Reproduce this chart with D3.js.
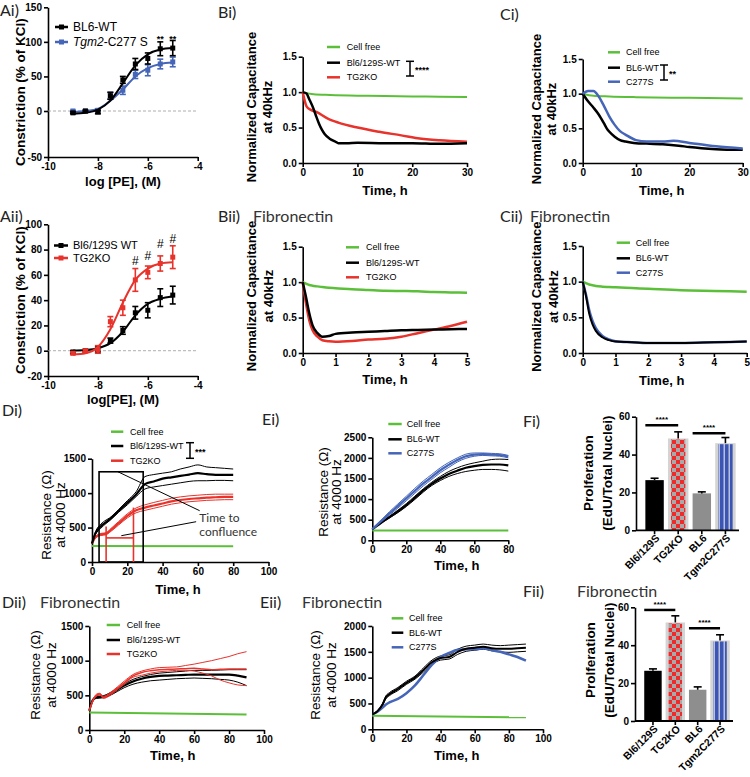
<!DOCTYPE html>
<html><head><meta charset="utf-8">
<script src="https://cdn.jsdelivr.net/npm/d3@7"></script>
<style>body{margin:0;background:#fff}</style>
</head><body><svg id="c" width="750" height="777" xmlns="http://www.w3.org/2000/svg"></svg>
<script>
// ================= DATA =================
// A panels: log[PE] concentration-response
const logPE = [-9,-8.5,-8,-7.5,-7,-6.5,-6,-5.5,-5];
const aiWT = [-2,0,-1,22,45,68,76,90,91];
const aiWTerr = [1,1,2,5,5,8,8,10,11];
const aiC277S = [0,0,1,22,30,53,59,68,71];
const aiC277Serr = [1,1,2,5,6,6,8,7,7];
const aiWTfit = [-3,-2,2,15,40,66,82,89,91];
const aiC277Sfit = [-1,0,3,15,31,50,62,68,70];
const aiStars = [-5.5,-5];
const aiYticks = [-50,0,50,100,150];

const aiiWT = [-1,0,1,8,16,30,32,42,44];
const aiiWTerr = [1,1,2,2,3,5,6,7,7];
const aiiKO = [-2,0,1,23,34,56,62,69,74];
const aiiKOerr = [1,1,3,4,6,9,5,6,9];
const aiiWTfit = [0,0.5,2,6,15,28,37,41,43];
const aiiKOfit = [-3,-2,3,17,38,56,65,69,70];
const aiiHash = [[-6.5,68],[-6,72],[-5.5,81],[-5,85]];

// B / C panels: normalized capacitance
const biCellFreeT = [0,2,5,10,15,20,25,30];
const biCellFree = [1.0,0.97,0.96,0.95,0.945,0.94,0.935,0.93];
const biWTT = [0,0.7,1.2,2,2.5,3,3.5,4,5,6,6.5,8,10,15,20,25,30];
const biWT = [1.0,0.98,0.9,0.76,0.65,0.55,0.47,0.41,0.34,0.3,0.28,0.28,0.285,0.28,0.28,0.27,0.28];
const biKOT = [0,0.7,1.5,2.5,4.5,6.5,10,14,18,21,25,30];
const biKO = [1.0,0.8,0.75,0.72,0.63,0.57,0.5,0.44,0.39,0.35,0.32,0.3];

const ciCellFreeT = [0,2,5,10,20,30];
const ciCellFree = [1.0,0.97,0.96,0.95,0.94,0.93];
const ciWTT = [0,1,2,3,4,4.5,5,6,7,8,9,10,12,15,18,20,25,30];
const ciWT = [1.0,0.89,0.8,0.7,0.57,0.5,0.45,0.38,0.33,0.31,0.295,0.285,0.28,0.27,0.25,0.23,0.2,0.19];
const ciC277ST = [0,1,2,3,4,5,6,7,8,10,12,15,17,20,25,30];
const ciC277S = [1.0,1.04,1.04,0.96,0.82,0.67,0.55,0.46,0.41,0.33,0.31,0.31,0.32,0.29,0.24,0.21];

const biiT = [0,0.1,0.2,0.3,0.45,0.6,0.8,1,1.5,2,2.5,3,3.5,4,4.5,5];
const biiCellFree = [1.0,0.98,0.96,0.95,0.94,0.93,0.92,0.915,0.9,0.89,0.88,0.875,0.87,0.86,0.855,0.85];
const biiWT = [1.0,0.79,0.56,0.39,0.28,0.23,0.24,0.27,0.29,0.3,0.31,0.32,0.325,0.33,0.335,0.34];
const biiKO = [1.0,0.7,0.46,0.32,0.23,0.18,0.165,0.16,0.17,0.19,0.2,0.23,0.28,0.33,0.38,0.44];

const ciiT = [0,0.1,0.2,0.3,0.4,0.6,0.8,1,1.5,2,3,4,5];
const ciiCellFree = [1.0,0.98,0.96,0.95,0.94,0.93,0.925,0.92,0.91,0.9,0.88,0.87,0.86];
const ciiWT = [1.0,0.8,0.55,0.4,0.31,0.22,0.18,0.16,0.15,0.14,0.14,0.15,0.16];
const ciiC277S = [1.0,0.82,0.6,0.45,0.35,0.24,0.19,0.165,0.15,0.14,0.14,0.15,0.16];

// D / E panels: resistance at 4000 Hz
const diT = [0,2,5,8,10,15,20,25,30,35,40,45,50,55,60,65,70,75,80];
const diWT = [270,420,520,580,620,740,860,980,1130,1170,1210,1230,1250,1270,1290,1275,1265,1265,1265];
const diWThi = [270,440,550,610,640,760,890,1020,1240,1270,1290,1310,1350,1380,1410,1380,1370,1360,1350];
const diWTlo = [270,400,490,560,600,720,830,950,1060,1090,1110,1130,1150,1170,1180,1180,1185,1185,1180];
const diKO = [270,360,400,410,450,560,670,750,790,820,850,880,900,915,925,935,940,945,945];
const diKOhi = [270,370,415,425,470,585,700,785,830,865,895,925,945,960,970,980,985,985,985];
const diKOlo = [270,350,385,395,430,535,640,715,750,780,810,840,860,875,885,895,900,905,905];
const diCellFreeT = [0,80];
const diCellFree = [232,230];
const diConfluenceBox = [4,29,1310];      // start h, end h, top (Ω)
const diConfluenceKO = [8,23.5,350];      // TG2KO bracket: start h, end h, level (Ω)
const diConfluenceKOtops = [515,790];     // red vertical heights
const diPointer1 = [[14.7,1310],[61,745]];
const diPointer2 = [[16.6,382],[59,585]];

const eiT = [0,5,10,15,20,25,30,35,40,45,50,55,60,65,70,75,80];
const eiWT = [270,420,560,700,855,1030,1210,1370,1500,1610,1690,1760,1800,1830,1840,1840,1820];
const eiWThi = [270,430,580,730,890,1070,1250,1410,1550,1670,1760,1830,1880,1920,1960,1970,1960];
const eiWTlo = [270,410,540,670,820,990,1170,1330,1450,1550,1620,1670,1700,1720,1720,1710,1680];
const eiC277S = [270,460,650,830,1016,1200,1380,1540,1700,1830,1950,2040,2080,2090,2080,2070,2030];
const eiC277Shi = [270,480,690,880,1070,1260,1440,1600,1760,1890,2000,2090,2120,2120,2110,2100,2060];
const eiC277Slo = [270,440,610,780,960,1140,1320,1480,1640,1770,1900,1990,2040,2060,2050,2040,2000];
const eiCellFreeT = [0,80];
const eiCellFree = [240,238];

const diiT = [0,2,4,6,8,12,16,20,25,30,35,40,45,50,55,60,65,70,75,80,85,90];
const diiWT = [280,430,470,475,480,520,580,640,700,740,765,780,785,790,795,800,800,800,800,800,785,760];
const diiWThi = [280,440,485,490,495,540,600,665,730,770,800,820,830,840,850,860,860,860,865,870,870,870];
const diiWTlo = [280,420,455,460,465,500,555,610,660,690,710,720,730,740,745,750,745,740,730,720,690,640];
const diiKO = [280,420,500,520,470,520,600,680,780,830,855,870,875,880,885,890,880,870,875,880,880,880];
const diiKOhi = [280,430,515,530,485,540,620,705,800,850,880,900,905,910,930,950,975,1000,1030,1060,1100,1130];
const diiKOlo = [280,410,485,505,455,500,580,660,760,790,820,840,850,860,860,850,820,780,720,680,650,640];
const diiCellFreeT = [0,90];
const diiCellFree = [252,225];

const eiiT = [0,3,6,8,10,15,20,25,30,35,40,45,50,55,60,65,70,75,80,85,90];
const eiiWT = [290,350,480,620,680,780,900,1000,1150,1300,1380,1400,1500,1560,1580,1600,1570,1560,1560,1570,1580];
const eiiWThi = [290,360,500,650,710,810,930,1030,1190,1340,1420,1440,1550,1610,1630,1650,1630,1620,1630,1640,1650];
const eiiWTlo = [290,340,460,590,650,750,870,970,1110,1260,1340,1360,1450,1510,1530,1550,1520,1500,1490,1500,1510];
const eiiC277S = [290,340,420,480,520,590,700,850,1050,1250,1400,1480,1540,1550,1550,1570,1530,1500,1450,1400,1330];
const eiiCellFreeT = [0,90];
const eiiCellFree = [260,232];

// F panels: proliferation
const fCats = ["Bl6/129S","TG2KO","BL6","Tgm2C277S"];
const fiMeans = [26.5,48.5,19.5,46];
const fiErr = [1,3.5,0.8,3];
const fiSig = [[0,1,55.5],[2,3,51.2]];
const fiiMeans = [26.5,52,16.5,42.5];
const fiiErr = [1,3.5,1.5,3];
const fiiSig = [[0,1,58.6],[2,3,49]];

// ================= DRAWING =================
const COL = {green:"#5cbf3a", red:"#e8332c", blue:"#4565b8", black:"#000000", gray:"#8e8e8e"};
const FONT = "'Liberation Sans', Arial, sans-serif";
const LFONT = "Lato, 'Open Sans', sans-serif";
const svg = d3.select("#c");
svg.append("rect").attr("width",750).attr("height",777).attr("fill","#fff");

function txt(x,y,s,o={}) {
  const t = svg.append("text").attr("x",x).attr("y",y).text(s)
    .attr("font-family",o.family||FONT).attr("font-size",o.size||10)
    .attr("font-weight",o.weight||"normal").attr("fill",o.fill||"#000")
    .attr("text-anchor",o.anchor||"start");
  if (o.rot) t.attr("transform",`rotate(${o.rot},${x},${y})`);
  if (o.dy) t.attr("dy",o.dy);
  if (o.style) t.attr("font-style",o.style);
  return t;
}

function makeAxes(p) {
  const x = d3.scaleLinear().domain(p.xd).range(p.xr);
  const y = d3.scaleLinear().domain(p.yd).range(p.yr);
  const fmt = d => String(d);
  const xa = svg.append("g").attr("transform",`translate(0,${p.yr[0]})`)
    .call(d3.axisBottom(x).tickValues(p.xt).tickSize(4).tickSizeOuter(0).tickPadding(2).tickFormat(p.xf||fmt));
  const ya = svg.append("g").attr("transform",`translate(${p.xr[0]},0)`)
    .call(d3.axisLeft(y).tickValues(p.yt).tickSize(4).tickSizeOuter(0).tickPadding(2).tickFormat(p.yf||fmt));
  [xa,ya].forEach(a=>{
    a.selectAll("path,line").attr("stroke","#000").attr("stroke-width",1.6);
    a.selectAll("text").attr("font-size",10).attr("font-weight","bold").attr("fill","#000").attr("font-family",FONT);
  });
  return {x,y};
}

function drawLine(s, xs, ys, color, w, curve) {
  const pts = xs.map((t,i)=>[t,ys[i]]);
  svg.append("path").datum(pts)
    .attr("d", d3.line().x(d=>s.x(d[0])).y(d=>s.y(d[1])).curve(curve||d3.curveMonotoneX))
    .attr("fill","none").attr("stroke",color).attr("stroke-width",w).attr("stroke-linejoin","round");
}

function legend(items, x1, x2, tx, ys, size) {
  items.forEach((it,i)=>{
    svg.append("line").attr("x1",x1).attr("x2",x2).attr("y1",ys[i]).attr("y2",ys[i])
      .attr("stroke",it.c).attr("stroke-width",2.5);
    if (it.marker) svg.append("rect").attr("x",(x1+x2)/2-2.5).attr("y",ys[i]-2.5).attr("width",5).attr("height",5).attr("fill",it.c);
    const t = svg.append("text").attr("x",tx).attr("y",ys[i]).attr("dy","0.35em")
      .attr("font-family",FONT).attr("font-size",size).attr("fill","#000");
    if (it.parts) it.parts.forEach(p=>t.append("tspan").text(p[0]).attr("font-style",p[1]?"italic":"normal"));
    else t.text(it.t);
  });
}

function panelLabel(x,y,s) {
  txt(x,y,s,{family:LFONT,size:16,fill:"#222"});
}

// ---------- A panels ----------
function drawA(p) {
  const x = d3.scaleLinear().domain(p.xd).range(p.xr);
  const y = d3.scaleLinear().domain(p.yd).range(p.yr);
  const fmt = d => String(d);
  const xa = svg.append("g").attr("transform",`translate(0,${p.yr[0]})`)
    .call(d3.axisBottom(x).tickValues(p.xt).tickSize(4).tickSizeOuter(0).tickPadding(2).tickFormat(fmt));
  const ya = svg.append("g").attr("transform",`translate(${p.xr[0]},0)`)
    .call(d3.axisLeft(y).tickValues(p.yt).tickSize(4).tickSizeOuter(0).tickPadding(2).tickFormat(fmt));
  [xa,ya].forEach(a=>{
    a.selectAll("path,line").attr("stroke","#000").attr("stroke-width",1.6);
    a.selectAll("text").attr("font-size",10).attr("font-weight","bold").attr("fill","#000").attr("font-family",FONT);
  });
  const s = {x,y};
  svg.append("line").attr("x1",x(p.xd[0])).attr("x2",x(p.xd[1])).attr("y1",y(0)).attr("y2",y(0))
    .attr("stroke","#999").attr("stroke-width",0.8).attr("stroke-dasharray","3,2");
  p.series.forEach(se=>{
    drawLine(s, logPE, se.fit, se.c, 2, d3.curveMonotoneX);
    logPE.forEach((v,i)=>{
      const cx=x(v), cy=y(se.m[i]), e=se.e[i];
      const y1=y(se.m[i]+e), y2=y(se.m[i]-e);
      svg.append("line").attr("x1",cx).attr("x2",cx).attr("y1",y1).attr("y2",y2).attr("stroke",se.c).attr("stroke-width",1.6);
      [y1,y2].forEach(yy=>svg.append("line").attr("x1",cx-3).attr("x2",cx+3).attr("y1",yy).attr("y2",yy).attr("stroke",se.c).attr("stroke-width",1.6));
      svg.append("rect").attr("x",cx-2.5).attr("y",cy-2.5).attr("width",5).attr("height",5).attr("fill",se.c);
    });
  });
  return s;
}

const sAi = drawA({xd:[-10,-4], xr:[48,197.7], yd:[-50,0,150], yr:[157,111,7.3],
  xt:[-10,-8,-6,-4], yt:aiYticks,
  series:[{m:aiC277S,e:aiC277Serr,fit:aiC277Sfit,c:COL.blue},{m:aiWT,e:aiWTerr,fit:aiWTfit,c:COL.black}]});
aiStars.forEach(v=>txt(sAi.x(v),sAi.y(100),"**",{anchor:"middle",size:9,weight:"bold"}));
legend([{t:"BL6-WT",c:COL.black,marker:true},{parts:[["Tgm2",true],["-C277 S",false]],c:COL.blue,marker:true}],55,68,73,[27,42],12);
txt(123,186,"log [PE], (M)",{anchor:"middle",size:13,weight:"bold"});
txt(20,92,"Constriction (% of  KCl)",{anchor:"middle",size:13.5,weight:"bold",rot:-90,dy:"0.35em"});
panelLabel(0,16,"Ai)");

const sAii = drawA({xd:[-10,-4], xr:[48,197.7], yd:[-20,100], yr:[376,224.3],
  xt:[-10,-8,-6,-4], yt:[-20,0,20,40,60,80,100],
  series:[{m:aiiWT,e:aiiWTerr,fit:aiiWTfit,c:COL.black},{m:aiiKO,e:aiiKOerr,fit:aiiKOfit,c:COL.red}]});
aiiHash.forEach(h=>txt(sAii.x(h[0]),sAii.y(h[1]),"#",{anchor:"middle",size:12}));
legend([{t:"Bl6/129S WT",c:COL.black,marker:true},{t:"TG2KO",c:COL.red,marker:true}],54,68,73,[245.5,258],11);
txt(123,404,"log[PE], (M)",{anchor:"middle",size:13,weight:"bold"});
txt(20,300,"Constriction (% of  KCl)",{anchor:"middle",size:13.5,weight:"bold",rot:-90,dy:"0.35em"});
panelLabel(0,222,"Aii)");

// ---------- B / C panels ----------
function capAxes(xr,yr,xd,xt) {
  return makeAxes({xd:xd, xr:xr, yd:[0,1.5], yr:yr, xt:xt, yt:[0,0.5,1,1.5], yf:d3.format(".1f")});
}
function capLabels(x1,x2,yc,tx,ty) {
  txt(x1,yc,"Normalized Capacitance",{anchor:"middle",size:13,weight:"bold",rot:-90,dy:"0.35em"});
  txt(x2,yc,"at 40kHz",{anchor:"middle",size:13,weight:"bold",rot:-90,dy:"0.35em"});
  txt(tx,ty,"Time, h",{anchor:"middle",size:13,weight:"bold",dy:"0.35em"});
}
function bracket(x,y1,y2,label) {
  svg.append("line").attr("x1",x).attr("x2",x).attr("y1",y1).attr("y2",y2).attr("stroke","#000").attr("stroke-width",1.5);
  [y1,y2].forEach(y=>svg.append("line").attr("x1",x-4).attr("x2",x+4).attr("y1",y).attr("y2",y).attr("stroke","#000").attr("stroke-width",1.5));
  txt(x+5,(y1+y2)/2,label,{size:9,weight:"bold",dy:"0.5em"});
}

// Bi
const sBi = capAxes([302.7,467],[163,56.7],[0,30],[0,10,20,30]);
drawLine(sBi, biCellFreeT, biCellFree, COL.green, 2);
drawLine(sBi, biKOT, biKO, COL.red, 2.5);
drawLine(sBi, biWTT, biWT, COL.black, 2.5);
legend([{t:"Cell free",c:COL.green},{t:"Bl6/129S-WT",c:COL.black},{t:"TG2KO",c:COL.red}],327,340,346.7,[47,62.7,77.3],9);
bracket(410,61.3,76,"****");
capLabels(251.7,267.3,107,385,190);
panelLabel(218,18,"Bi)");

// Ci
const sCi = capAxes([582.7,742.7],[163,59],[0,30],[0,10,20,30]);
drawLine(sCi, ciCellFreeT, ciCellFree, COL.green, 2);
drawLine(sCi, ciWTT, ciWT, COL.black, 2.5);
drawLine(sCi, ciC277ST, ciC277S, COL.blue, 2.5);
legend([{t:"Cell free",c:COL.green},{t:"BL6-WT",c:COL.black},{t:"C277S",c:COL.blue}],608,620,626,[52.3,67.7,81.7],9);
bracket(664,65,80,"**");
capLabels(536.7,551.7,109,661.7,190);
panelLabel(500,20,"Ci)");

// Bii
const sBii = capAxes([302.7,467],[353,246.7],[0,5],[0,1,2,3,4,5]);
drawLine(sBii, biiT, biiCellFree, COL.green, 2.5);
drawLine(sBii, biiT, biiKO, COL.red, 2.5);
drawLine(sBii, biiT, biiWT, COL.black, 2.5);
legend([{t:"Cell free",c:COL.green},{t:"Bl6/129S-WT",c:COL.black},{t:"TG2KO",c:COL.red}],346,359,366,[247.3,262.7,277.3],9);
capLabels(251.7,268.3,296,385,379);
panelLabel(218,222,"Bii)");
txt(253,222,"Fibronectin",{family:LFONT,size:16,fill:"#333"});

// Cii
const sCii = capAxes([582.7,746.7],[353,246],[0,5],[0,1,2,3,4,5]);
drawLine(sCii, ciiT, ciiCellFree, COL.green, 2.5);
drawLine(sCii, ciiT, ciiC277S, COL.blue, 2.5);
drawLine(sCii, ciiT, ciiWT, COL.black, 2);
legend([{t:"Cell free",c:COL.green},{t:"BL6-WT",c:COL.black},{t:"C277S",c:COL.blue}],616.7,630,635.7,[242.7,258.3,272.7],9);
capLabels(536.7,553.3,296.7,661.7,380);
panelLabel(500,222,"Cii)");
txt(530,222,"Fibronectin",{family:LFONT,size:16,fill:"#333"});

// ---------- D / E panels ----------
function resLabels(x1,x2,yc,tx,ty) {
  txt(x1,yc,"Resistance (\u03A9)",{anchor:"middle",size:13.5,rot:-90,dy:"0.35em"});
  txt(x2,yc,"at 4000 Hz",{anchor:"middle",size:13.5,rot:-90,dy:"0.35em"});
  txt(tx,ty,"Time, h",{anchor:"middle",size:13,weight:"bold",dy:"0.35em"});
}

// Di
const sDi = makeAxes({xd:[0,100], xr:[92,268.5], yd:[0,1500], yr:[562,458.7], xt:[0,20,40,60,80,100], yt:[0,500,1000,1500]});
drawLine(sDi, diCellFreeT, diCellFree, COL.green, 2);
drawLine(sDi, diT, diKOhi, COL.red, 1);
drawLine(sDi, diT, diKOlo, COL.red, 1);
drawLine(sDi, diT, diKO, COL.red, 2.2);
drawLine(sDi, diT, diWThi, COL.black, 1);
drawLine(sDi, diT, diWTlo, COL.black, 1);
drawLine(sDi, diT, diWT, COL.black, 2.2);
// time-to-confluence annotation
svg.append("rect").attr("x",sDi.x(diConfluenceBox[0])).attr("y",sDi.y(diConfluenceBox[2]))
  .attr("width",sDi.x(diConfluenceBox[1])-sDi.x(diConfluenceBox[0])).attr("height",sDi.y(0)-sDi.y(diConfluenceBox[2]))
  .attr("fill","none").attr("stroke","#000").attr("stroke-width",1.6);
[0,1].forEach(i=>svg.append("line").attr("x1",sDi.x(diConfluenceKO[i])).attr("x2",sDi.x(diConfluenceKO[i]))
  .attr("y1",sDi.y(0)).attr("y2",sDi.y(diConfluenceKOtops[i])).attr("stroke",COL.red).attr("stroke-width",1.6));
svg.append("line").attr("x1",sDi.x(diConfluenceKO[0])).attr("x2",sDi.x(diConfluenceKO[1]))
  .attr("y1",sDi.y(diConfluenceKO[2])).attr("y2",sDi.y(diConfluenceKO[2])).attr("stroke",COL.red).attr("stroke-width",1.6);
[diPointer1,diPointer2].forEach(pp=>svg.append("line").attr("x1",sDi.x(pp[0][0])).attr("y1",sDi.y(pp[0][1]))
  .attr("x2",sDi.x(pp[1][0])).attr("y2",sDi.y(pp[1][1])).attr("stroke","#000").attr("stroke-width",1));
txt(199.3,517.5,"Time to",{family:LFONT,size:12,fill:"#333",dy:"0.35em"});
txt(199.3,531.5,"confluence",{family:LFONT,size:12,fill:"#333",dy:"0.35em"});
legend([{t:"Cell free",c:COL.green},{t:"Bl6/129S-WT",c:COL.black},{t:"TG2KO",c:COL.red}],111,123.3,130,[431.7,446,460.7],9);
bracket(190,442.7,458.3,"***");
resLabels(46.7,60.7,515,178,589);
panelLabel(2,416,"Di)");

// Ei
const sEi = makeAxes({xd:[0,80], xr:[372.3,508.3], yd:[0,2500], yr:[540.3,437.3], xt:[0,20,40,60,80], yt:[0,500,1000,1500,2000,2500]});
drawLine(sEi, eiCellFreeT, eiCellFree, COL.green, 2);
drawLine(sEi, eiT, eiWThi, COL.black, 1);
drawLine(sEi, eiT, eiWTlo, COL.black, 1);
drawLine(sEi, eiT, eiWT, COL.black, 2.2);
drawLine(sEi, eiT, eiC277Shi, COL.blue, 1);
drawLine(sEi, eiT, eiC277Slo, COL.blue, 1);
drawLine(sEi, eiT, eiC277S, COL.blue, 2.2);
legend([{t:"Cell free",c:COL.green},{t:"BL6-WT",c:COL.black},{t:"C277S",c:COL.blue}],388.3,401.7,406.7,[424,439.3,453.3],9);
resLabels(323.3,336,492,456.7,565.7);
panelLabel(262,425,"Ei)");

// Dii
const sDii = makeAxes({xd:[0,100], xr:[89.3,264], yd:[0,1500], yr:[730,626], xt:[0,20,40,60,80,100], yt:[0,500,1000,1500]});
drawLine(sDii, diiCellFreeT, diiCellFree, COL.green, 2);
drawLine(sDii, diiT, diiWThi, COL.black, 1);
drawLine(sDii, diiT, diiWTlo, COL.black, 1);
drawLine(sDii, diiT, diiWT, COL.black, 2.2);
drawLine(sDii, diiT, diiKOhi, COL.red, 1);
drawLine(sDii, diiT, diiKOlo, COL.red, 1);
drawLine(sDii, diiT, diiKO, COL.red, 1.5);
legend([{t:"Cell free",c:COL.green},{t:"Bl6/129S-WT",c:COL.black},{t:"TG2KO",c:COL.red}],106.7,120,126.7,[625,640,654],9);
resLabels(35,51.7,675,172.7,755);
panelLabel(2,608,"Dii)");
txt(40,608,"Fibronectin",{family:LFONT,size:16,fill:"#333"});

// Eii
const sEii = makeAxes({xd:[0,100], xr:[372.3,543], yd:[0,2000], yr:[729.3,626], xt:[0,20,40,60,80,100], yt:[0,500,1000,1500,2000]});
drawLine(sEii, eiiCellFreeT, eiiCellFree, COL.green, 2);
drawLine(sEii, eiiT, eiiWThi, COL.black, 1);
drawLine(sEii, eiiT, eiiWTlo, COL.black, 1);
drawLine(sEii, eiiT, eiiC277S, COL.blue, 2.5);
drawLine(sEii, eiiT, eiiWT, COL.black, 2);
legend([{t:"Cell free",c:COL.green},{t:"BL6-WT",c:COL.black},{t:"C277S",c:COL.blue}],391.7,403.3,409,[618.3,632.7,647.3],9);
resLabels(315,331,675,456.7,755);
panelLabel(260,608,"Eii)");
txt(302,608,"Fibronectin",{family:LFONT,size:16,fill:"#333"});

// ---------- F panels ----------
const defs = svg.append("defs");
const chk = defs.append("pattern").attr("id","checker").attr("patternUnits","userSpaceOnUse").attr("width",8).attr("height",8);
chk.append("rect").attr("width",8).attr("height",8).attr("fill","#a9a9a9");
chk.append("rect").attr("width",4).attr("height",4).attr("fill","#ee2a2a");
chk.append("rect").attr("x",4).attr("y",4).attr("width",4).attr("height",4).attr("fill","#ee2a2a");
const str = defs.append("pattern").attr("id","stripes").attr("patternUnits","userSpaceOnUse").attr("width",5).attr("height",5);
str.append("rect").attr("width",5).attr("height",5).attr("fill","#3b55b5");
str.append("rect").attr("x",3.5).attr("width",1.5).attr("height",5).attr("fill","#b9c0dc");

function drawF(p) {
  const x = d3.scaleBand().domain(fCats).range(p.xr).paddingInner(0.22).paddingOuter(0.1);
  const y = d3.scaleLinear().domain([0,60]).range(p.yr);
  const bw = x.bandwidth();
  const fills = ["#000","url(#checker)","#8e8e8e","url(#stripes)"];
  p.means.forEach((m,i)=>{
    const bx = x(fCats[i]), top = y(m), base = y(0);
    if (i===1 || i===3) {
      svg.append("rect").attr("x",bx-1).attr("y",top).attr("width",bw+2).attr("height",base-top).attr("fill","#d4d4d4");
      svg.append("rect").attr("x",bx+2).attr("y",top+1).attr("width",bw-4).attr("height",base-top-1).attr("fill",fills[i]);
    } else {
      svg.append("rect").attr("x",bx).attr("y",top).attr("width",bw).attr("height",base-top).attr("fill",fills[i]);
    }
    const cx = bx+bw/2, ye = y(m+p.err[i]);
    svg.append("line").attr("x1",cx).attr("x2",cx).attr("y1",top).attr("y2",ye).attr("stroke","#000").attr("stroke-width",1.6);
    svg.append("line").attr("x1",cx-4).attr("x2",cx+4).attr("y1",ye).attr("y2",ye).attr("stroke","#000").attr("stroke-width",1.6);
  });
  const ya = svg.append("g").attr("transform",`translate(${p.xr[0]-7},0)`)
    .call(d3.axisLeft(y).tickValues([0,20,40,60]).tickSize(4).tickSizeOuter(0).tickPadding(2).tickFormat(d=>String(d)));
  const base = y(0);
  svg.append("line").attr("x1",p.xr[0]-7).attr("x2",p.xr[1]+2).attr("y1",base).attr("y2",base).attr("stroke","#000").attr("stroke-width",1.8);
  fCats.forEach(c=>{
    const cx = x(c)+bw/2;
    svg.append("line").attr("x1",cx).attr("x2",cx).attr("y1",base).attr("y2",base+4).attr("stroke","#000").attr("stroke-width",1.6);
    txt(cx+3,base+6,c,{anchor:"end",size:10.5,weight:"bold",rot:-45,dy:"0.35em"});
  });
  ya.selectAll("path,line").attr("stroke","#000").attr("stroke-width",1.6);
  ya.selectAll("text").attr("font-size",10).attr("font-weight","bold").attr("fill","#000").attr("font-family",FONT);
  p.sig.forEach(sg=>{
    const xa = x(fCats[sg[0]]), xb = x(fCats[sg[1]])+bw/2;
    svg.append("line").attr("x1",xa).attr("x2",xb).attr("y1",y(sg[2])).attr("y2",y(sg[2])).attr("stroke","#000").attr("stroke-width",2.5);
    txt((xa+xb)/2,y(sg[2])-3,"****",{anchor:"middle",size:8,weight:"bold"});
  });
}
drawF({xr:[643,737], yr:[530.3,416.7], means:fiMeans, err:fiErr, sig:fiSig});
txt(588.3,473,"Prolferation",{anchor:"middle",size:13.5,weight:"bold",rot:-90,dy:"0.35em"});
txt(607.3,473,"(EdU/Total Nuclei)",{anchor:"middle",size:13.5,weight:"bold",rot:-90,dy:"0.35em"});
panelLabel(523,427,"Fi)");

drawF({xr:[642,731], yr:[721,607.3], means:fiiMeans, err:fiiErr, sig:fiiSig});
txt(590,660,"Prolferation",{anchor:"middle",size:13.5,weight:"bold",rot:-90,dy:"0.35em"});
txt(609,660,"(EdU/Total Nuclei)",{anchor:"middle",size:13.5,weight:"bold",rot:-90,dy:"0.35em"});
panelLabel(523,597,"Fii)");
txt(577,597,"Fibronectin",{family:LFONT,size:16,fill:"#333"});
</script></body></html>
